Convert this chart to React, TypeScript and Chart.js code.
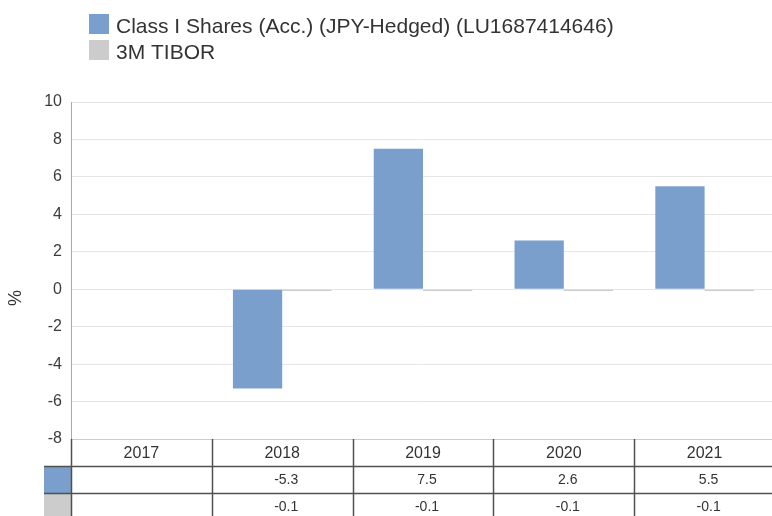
import React, { useEffect, useRef } from "react";
import { Chart, registerables } from "chart.js";

Chart.register(...registerables);

const categories = ["2017", "2018", "2019", "2020", "2021"];
const fundValues: (number | null)[] = [null, -5.3, 7.5, 2.6, 5.5];
const benchmarkValues: (number | null)[] = [null, -0.1, -0.1, -0.1, -0.1];
const seriesNames = ["Class I Shares (Acc.) (JPY-Hedged) (LU1687414646)", "3M TIBOR"];
const seriesColors = ["#7a9fcc", "#cccccc"];
const yMin = -8;
const yMax = 10;
const yStep = 2;
const yTitle = "%";

const FONT = "'Liberation Sans', Arial, Helvetica, sans-serif";
const TEXT = "#333333";

const overlayPlugin = {
  id: "overlay",
  afterDraw(chart: any) {
    const ctx = chart.ctx;
    const xs = chart.scales.x;
    const area = chart.chartArea;
    const H = chart.height;
    const rowH = 27;
    const top = area.bottom;
    const n = categories.length;
    const centers = categories.map((_, i) => xs.getPixelForValue(i));
    const bounds: number[] = [area.left];
    for (let i = 1; i < n; i++) bounds.push((centers[i - 1] + centers[i]) / 2);
    bounds.push(area.right);

    ctx.save();
    // legend
    ctx.font = `21px ${FONT}`;
    ctx.textBaseline = "alphabetic";
    ctx.textAlign = "left";
    seriesNames.forEach((name, i) => {
      const y = 14 + i * 26;
      ctx.fillStyle = seriesColors[i];
      ctx.fillRect(89, y, 20, 20);
      ctx.fillStyle = TEXT;
      ctx.fillText(name, 116, y + 19);
    });

    // y title
    ctx.save();
    ctx.translate(16, 298);
    ctx.rotate(-Math.PI / 2);
    ctx.font = `18px ${FONT}`;
    ctx.textAlign = "center";
    ctx.textBaseline = "middle";
    ctx.fillStyle = TEXT;
    ctx.fillText(yTitle, 0, 0);
    ctx.restore();

    // table legend cells
    ctx.fillStyle = seriesColors[0];
    ctx.fillRect(area.left - 27, top + rowH, 27, rowH);
    ctx.fillStyle = seriesColors[1];
    ctx.fillRect(area.left - 27, top + 2 * rowH, 27, H - (top + 2 * rowH));

    // table lines
    ctx.strokeStyle = "#505050";
    ctx.lineWidth = 1.5;
    ctx.beginPath();
    for (let r = 1; r <= 2; r++) {
      const y = Math.round(top + r * rowH) + 0.5;
      ctx.moveTo(area.left - 27, y);
      ctx.lineTo(area.right, y);
    }
    bounds.forEach((b) => {
      const x = Math.round(b) + 0.5;
      ctx.moveTo(x, top);
      ctx.lineTo(x, H);
    });
    ctx.stroke();

    // header + values
    ctx.textAlign = "center";
    ctx.textBaseline = "middle";
    ctx.fillStyle = TEXT;
    ctx.font = `16px ${FONT}`;
    categories.forEach((c, i) => {
      ctx.fillText(c, centers[i], top + rowH / 2 + 1);
    });
    ctx.font = `14px ${FONT}`;
    [fundValues, benchmarkValues].forEach((vals, r) => {
      vals.forEach((v, i) => {
        if (v === null) return;
        ctx.fillText(v.toFixed(1), centers[i] + 4, top + (r + 1) * rowH + rowH / 2 + 1);
      });
    });
    ctx.restore();
  },
};

export default function App() {
  const ref = useRef<HTMLCanvasElement>(null);
  useEffect(() => {
    if (!ref.current) return;
    const chart = new Chart(ref.current, {
      type: "bar",
      data: {
        labels: categories,
        datasets: [
          {
            label: seriesNames[0],
            data: fundValues,
            backgroundColor: seriesColors[0],
            categoryPercentage: 0.7,
            barPercentage: 1.0,
          },
          {
            label: seriesNames[1],
            data: benchmarkValues,
            backgroundColor: seriesColors[1],
            categoryPercentage: 0.7,
            barPercentage: 1.0,
          },
        ],
      },
      options: {
        animation: false,
        responsive: false,
        maintainAspectRatio: false,
        layout: { padding: { top: 102, bottom: 77, left: 0, right: 0 } },
        plugins: { legend: { display: false }, tooltip: { enabled: false } },
        scales: {
          x: {
            grid: { display: false, drawTicks: false },
            border: { display: true, color: "#cccccc" },
            ticks: { display: false },
            afterFit: (s: any) => {
              s.height = 0;
            },
          },
          y: {
            min: yMin,
            max: yMax,
            ticks: {
              stepSize: yStep,
              padding: 9,
              color: "#3c3c3c",
              font: { family: FONT, size: 16 },
            },
            grid: { color: "#e6e6e6", drawTicks: false },
            border: { color: "#aaaaaa" },
            afterFit: (s: any) => {
              s.width = 71;
            },
          },
        },
      },
      plugins: [overlayPlugin],
    });
    return () => chart.destroy();
  }, []);
  return (
    <div style={{ position: "fixed", left: 0, top: 0, width: 775, height: 516, background: "#fff" }}>
      <canvas ref={ref} width={775} height={516} style={{ display: "block", width: 775, height: 516 }} />
    </div>
  );
}
